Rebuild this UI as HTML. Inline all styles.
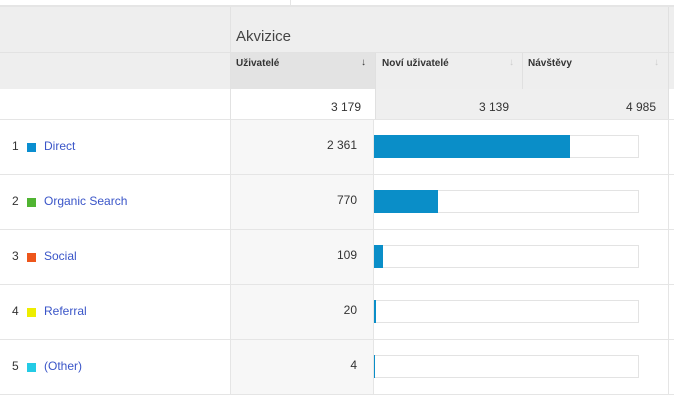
<!DOCTYPE html><html><head><style>
body{margin:0;width:674px;height:400px;background:#fff;font-family:"Liberation Sans",Arial,sans-serif;position:relative;overflow:hidden}
div{position:absolute;box-sizing:border-box}
.t{font-size:12px;color:#333}
.l{font-size:12px;color:#3a55c8}
.h{font-size:10px;font-weight:bold;color:#333}
</style></head><body>
<div style="left:290px;top:0;width:1px;height:5px;background:#e5e5e5"></div>
<div style="left:0;top:5px;width:674px;height:2px;background:#e5e5e5"></div>
<div style="left:0;top:7px;width:674px;height:82px;background:#eeeeee"></div>
<div style="left:0;top:52px;width:674px;height:1px;background:#e2e2e2"></div>
<div style="left:230px;top:7px;width:1px;height:82px;background:#e2e2e2"></div>
<div style="left:236px;top:28px;font-size:15px;color:#444">Akvizice</div>
<div style="left:231px;top:53px;width:144px;height:36px;background:#e3e3e3"></div>
<div style="left:375px;top:53px;width:1px;height:66px;background:#e0e0e0"></div>
<div style="left:522px;top:53px;width:1px;height:66px;background:#e0e0e0"></div>
<div style="left:668px;top:7px;width:1px;height:112px;background:#e0e0e0"></div>
<div class="h" style="left:236px;top:58px">Uživatelé</div><div style="left:361px;top:57px;font-size:10px;color:#333">↓</div>
<div class="h" style="left:382px;top:58px">Noví uživatelé</div><div style="left:509px;top:57px;font-size:10px;color:#ccc">↓</div>
<div class="h" style="left:528px;top:58px">Návštěvy</div><div style="left:654px;top:57px;font-size:10px;color:#ccc">↓</div>
<div style="left:376px;top:89px;width:292px;height:30px;background:#efefef"></div>
<div style="left:230px;top:89px;width:1px;height:30px;background:#e2e2e2"></div>
<div class="t" style="left:231px;top:100px;width:130px;text-align:right">3 179</div>
<div class="t" style="left:376px;top:100px;width:133px;text-align:right">3 139</div>
<div class="t" style="left:523px;top:100px;width:133px;text-align:right">4 985</div>
<div style="left:0;top:119px;width:674px;height:1px;background:#e5e5e5"></div>
<div style="left:230px;top:120px;width:144px;height:274px;background:#f7f7f7;border-left:1px solid #e5e5e5;border-right:1px solid #e5e5e5"></div>
<div style="left:668px;top:120px;width:1px;height:274px;background:#e5e5e5"></div>
<div id="rows"></div>
<script>
var d=[["1","Direct","#0a8ed0","2 361",196],["2","Organic Search","#50b432","770",64],["3","Social","#ed561b","109",9],["4","Referral","#eded00","20",2],["5","(Other)","#24cbe5","4",1]];
var h="";d.forEach(function(r,i){var y=120+i*55;
h+='<div class="t" style="left:12px;top:'+(y+19)+'px">'+r[0]+'</div><div style="left:27px;top:'+(y+23)+'px;width:9px;height:9px;background:'+r[2]+'"></div><div class="l" style="left:44px;top:'+(y+19)+'px">'+r[1]+'</div>';
h+='<div class="t" style="left:231px;top:'+(y+18)+'px;width:126px;text-align:right">'+r[3]+'</div>';
h+='<div style="left:374px;top:'+(y+15)+'px;width:265px;height:23px;border:1px solid #e3e3e3;background:#fff"></div><div style="left:374px;top:'+(y+15)+'px;width:'+r[4]+'px;height:23px;background:#0a8ec8"></div>';
h+='<div style="left:0;top:'+(y+54)+'px;width:674px;height:1px;background:#e5e5e5"></div>';});
document.getElementById("rows").outerHTML=h;
</script>
</body></html>
